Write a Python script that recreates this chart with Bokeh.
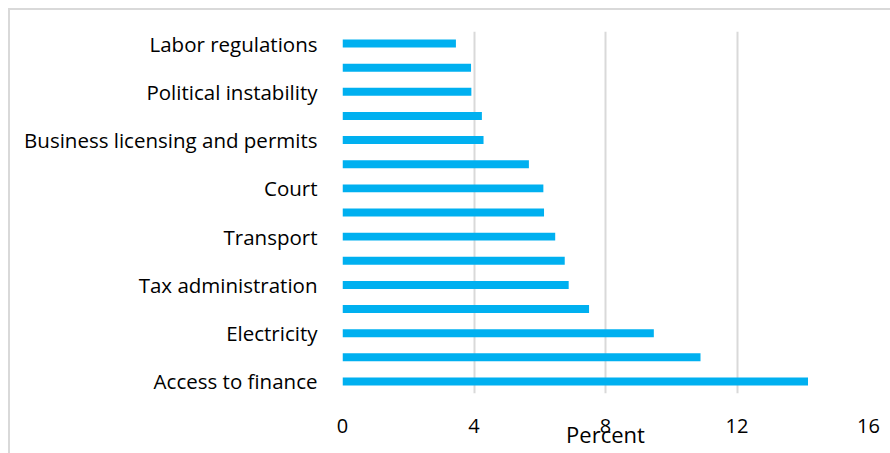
from bokeh.plotting import figure
from bokeh.models import FixedTicker, ColumnDataSource, Range1d, InlineStyleSheet
from bokeh.embed import file_html
from bokeh.resources import INLINE

# categories bottom -> top (only every other label is shown in the reference)
labels = ["Access to finance", "", "Electricity", "", "Tax administration", "",
          "Transport", "", "Court", "", "Business licensing and permits", "",
          "Political instability", "", "Labor regulations"]
values = [14.16, 10.89, 9.47, 7.5, 6.88, 6.76, 6.47, 6.13, 6.11, 5.67,
          4.29, 4.24, 3.92, 3.91, 3.45]
x_ticks = [0, 4, 8, 12, 16]
x_title = "Percent"

positions = list(range(1, len(values) + 1))
src = ColumnDataSource(dict(y=positions, v=values))

FONT = "Open Sans"

border_css = InlineStyleSheet(css="""
:host { position: relative; overflow: hidden; }
:host::after {
  content: "";
  position: absolute;
  left: 8px; top: 8px; right: -20px; bottom: -20px;
  border: 2px solid #d9d9d9;
  pointer-events: none;
  z-index: 10;
}
""")

p = figure(frame_width=526, frame_height=362, output_backend="svg", toolbar_location=None,
           x_range=Range1d(0, 16), y_range=Range1d(0.5, len(values) + 0.5),
           min_border_left=342, min_border_right=22, min_border_top=31,
           min_border_bottom=60, stylesheets=[border_css])
p.outline_line_color = None
p.background_fill_color = "white"
p.border_fill_color = "white"

p.hbar(y="y", right="v", left=0, height=0.33, source=src,
       fill_color="#00B0F0", line_color=None)

# x axis
p.xaxis.ticker = FixedTicker(ticks=x_ticks)
p.xaxis.axis_line_color = None
p.xaxis.major_tick_line_color = None
p.xaxis.minor_tick_line_color = None
p.xaxis.major_label_text_font = FONT
p.xaxis.major_label_text_font_size = "20px"
p.xaxis.major_label_text_color = "#000000"
p.xaxis.major_label_standoff = 19
p.xaxis.axis_label = x_title
p.xaxis.axis_label_text_font = FONT
p.xaxis.axis_label_text_font_style = "normal"
p.xaxis.axis_label_text_font_size = "22px"
p.xaxis.axis_label_text_color = "#000000"
p.xaxis.axis_label_standoff = -17

# y axis
p.yaxis.ticker = FixedTicker(ticks=[pp for pp, l in zip(positions, labels) if l])
p.yaxis.major_label_overrides = {pp: l for pp, l in zip(positions, labels) if l}
p.yaxis.axis_line_color = None
p.yaxis.major_tick_line_color = None
p.yaxis.minor_tick_line_color = None
p.yaxis.major_label_text_font = FONT
p.yaxis.major_label_text_font_size = "20.5px"
p.yaxis.major_label_text_color = "#000000"
p.yaxis.major_label_standoff = 19

p.xgrid.ticker = FixedTicker(ticks=x_ticks)
p.xgrid.grid_line_color = "#d9d9d9"
p.xgrid.grid_line_width = 2
p.ygrid.grid_line_color = None

open("out.html", "w").write(file_html(p, INLINE))
